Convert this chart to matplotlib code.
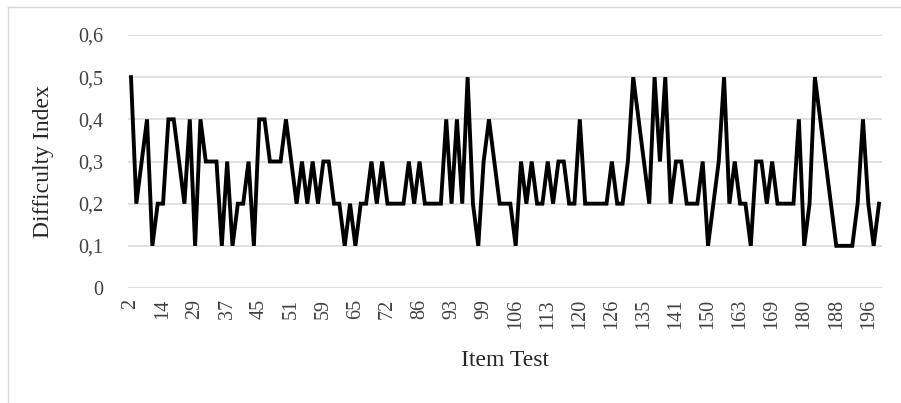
import matplotlib
matplotlib.use("Agg")
import matplotlib.pyplot as plt
from matplotlib.lines import Line2D

# Difficulty index per item (in the order shown on the chart)
difficulty = [
    0.5, 0.2, 0.3, 0.4, 0.1, 0.2, 0.2, 0.4, 0.4, 0.3,
    0.2, 0.4, 0.1, 0.4, 0.3, 0.3, 0.3, 0.1, 0.3, 0.1,
    0.2, 0.2, 0.3, 0.1, 0.4, 0.4, 0.3, 0.3, 0.3, 0.4,
    0.3, 0.2, 0.3, 0.2, 0.3, 0.2, 0.3, 0.3, 0.2, 0.2,
    0.1, 0.2, 0.1, 0.2, 0.2, 0.3, 0.2, 0.3, 0.2, 0.2,
    0.2, 0.2, 0.3, 0.2, 0.3, 0.2, 0.2, 0.2, 0.2, 0.4,
    0.2, 0.4, 0.2, 0.5, 0.2, 0.1, 0.3, 0.4, 0.3, 0.2,
    0.2, 0.2, 0.1, 0.3, 0.2, 0.3, 0.2, 0.2, 0.3, 0.2,
    0.3, 0.3, 0.2, 0.2, 0.4, 0.2, 0.2, 0.2, 0.2, 0.2,
    0.3, 0.2, 0.2, 0.3, 0.5, 0.4, 0.3, 0.2, 0.5, 0.3,
    0.5, 0.2, 0.3, 0.3, 0.2, 0.2, 0.2, 0.3, 0.1, 0.2,
    0.3, 0.5, 0.2, 0.3, 0.2, 0.2, 0.1, 0.3, 0.3, 0.2,
    0.3, 0.2, 0.2, 0.2, 0.2, 0.4, 0.1, 0.2, 0.5, 0.4,
    0.3, 0.2, 0.1, 0.1, 0.1, 0.1, 0.2, 0.4, 0.2, 0.1, 0.2,
]

# Visible category labels (every 6th item is labelled)
x_tick_labels = ["2", "14", "29", "37", "45", "51", "59", "65", "72", "86",
                 "93", "99", "106", "113", "120", "126", "135", "141", "150",
                 "163", "169", "180", "188", "196"]
label_step = 6

y_ticks = [0, 0.1, 0.2, 0.3, 0.4, 0.5, 0.6]
y_tick_labels = ["0", "0,1", "0,2", "0,3", "0,4", "0,5", "0,6"]

x_title = "Item Test"
y_title = "Difficulty Index"

plt.rcParams['font.family'] = ['Liberation Serif', 'DejaVu Serif']

W, H = 901, 403
fig = plt.figure(figsize=(W / 100, H / 100), dpi=100)
left, right, top, bottom = 128, 882, 35, 288
ax = fig.add_axes([left / W, 1 - bottom / H, (right - left) / W, (bottom - top) / H])

x = list(range(len(difficulty)))
ax.plot(x, difficulty, color="black", lw=2.8, solid_joinstyle="miter", zorder=3)

ax.set_ylim(0, 0.6)
pad = 0.56
ax.set_xlim(-pad, len(difficulty) - 1 + pad)
ax.set_yticks(y_ticks)
ax.set_yticklabels(y_tick_labels)
ax.set_xticks(list(range(0, len(x_tick_labels) * label_step, label_step)))
ax.set_xticklabels(x_tick_labels, rotation=90)

ax.grid(axis="y", color="#d9d9d9", lw=1.1, zorder=0)
ax.grid(axis="x", visible=False)
for s in ax.spines.values():
    s.set_visible(False)
ax.tick_params(length=0, labelsize=14.5, colors="#404040")
ax.tick_params(axis="y", pad=18)
ax.tick_params(axis="x", pad=8)

ax.set_xlabel(x_title, fontsize=17, color="#262626", labelpad=15)
ax.set_ylabel(y_title, fontsize=17, color="#262626", labelpad=17)

# chart-area border
fig.add_artist(Line2D([8 / W, 8 / W], [0, 1 - 7 / H], transform=fig.transFigure,
                      color="#d9d9d9", lw=1))
fig.add_artist(Line2D([8 / W, 1], [1 - 7 / H, 1 - 7 / H], transform=fig.transFigure,
                      color="#d9d9d9", lw=1))

fig.savefig("out.png", dpi=100, facecolor="white")
